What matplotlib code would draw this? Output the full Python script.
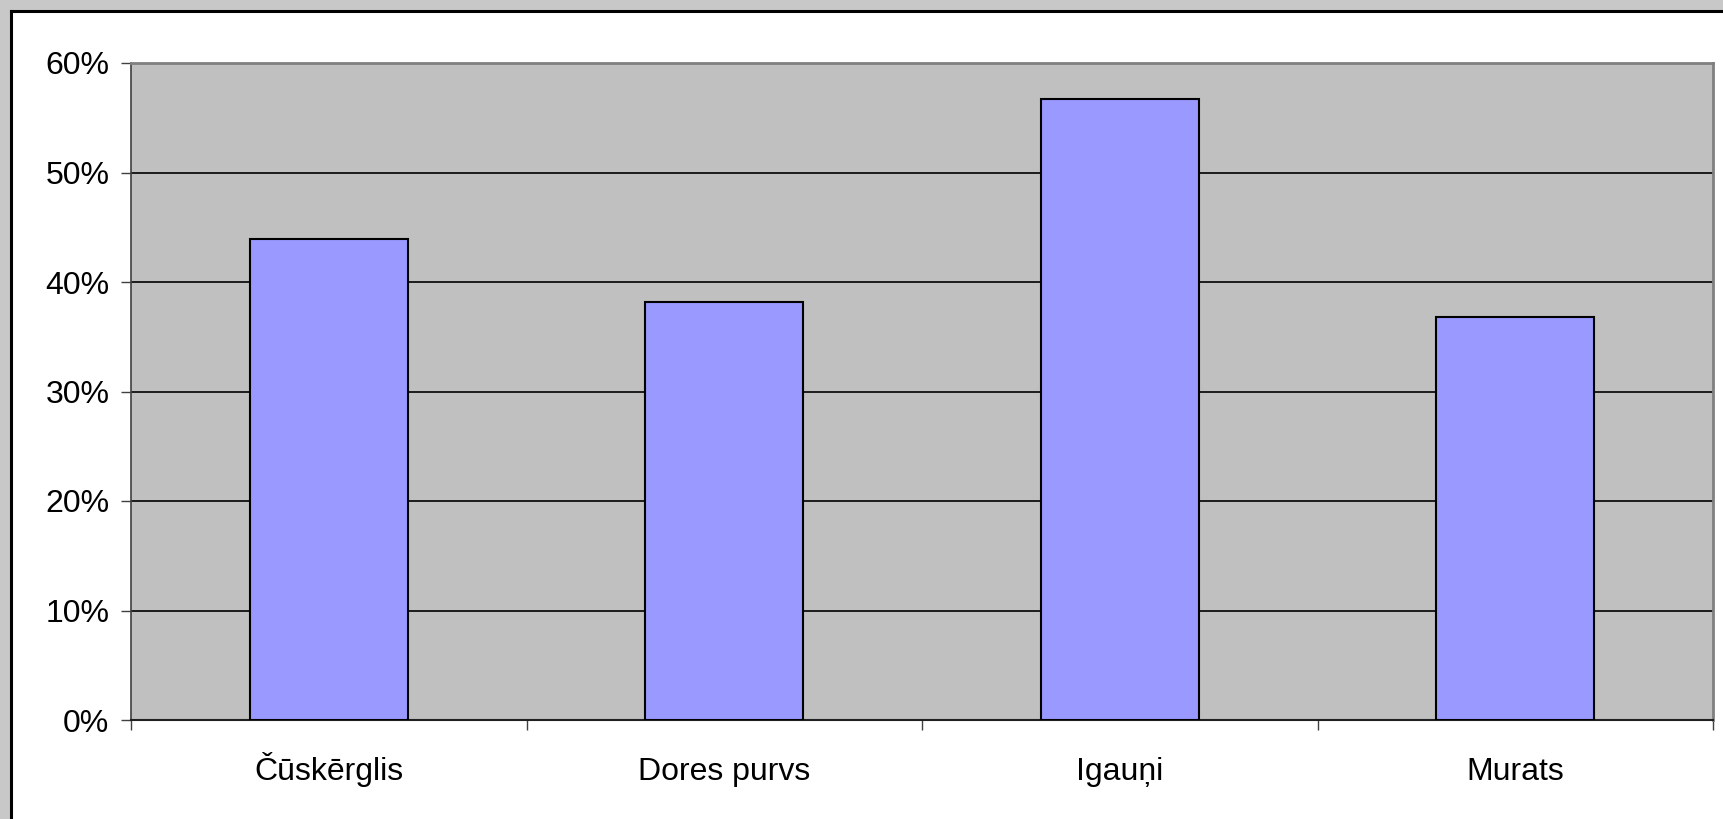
import matplotlib
matplotlib.use('Agg')
import matplotlib.pyplot as plt
from matplotlib.patches import Rectangle
from matplotlib.ticker import FixedLocator, PercentFormatter
import numpy as np

categories = ['Čūskērglis', 'Dores purvs', 'Igauņi', 'Murats']
values = [43.9, 38.2, 56.7, 36.8]
yticks = [0, 10, 20, 30, 40, 50, 60]

plt.rcParams['font.family'] = ['Liberation Sans', 'DejaVu Sans']

fig = plt.figure(figsize=(17.23, 8.19), dpi=100)
fig.patch.set_facecolor('#c8c8c8')

# white chart area with black frame on top/left (cropped at right/bottom)
W, H = 1723.0, 819.0
fig.patches.append(Rectangle((11 / W, 0), 1, 1 - 11 / H, transform=fig.transFigure,
                             facecolor='white', edgecolor='none', zorder=-10))
fig.lines.append(plt.Line2D([11 / W, 11 / W], [0, 1 - 11 / H], transform=fig.transFigure,
                            color='black', lw=2.2, zorder=-5))
fig.lines.append(plt.Line2D([11 / W, 1], [1 - 11 / H, 1 - 11 / H], transform=fig.transFigure,
                            color='black', lw=2.2, zorder=-5))

ax = fig.add_axes([131 / W, 99 / H, (1713 - 131) / W, (720 - 63) / H])
ax.set_facecolor('#c0c0c0')

x = np.arange(len(categories))
ax.bar(x, values, width=0.4, color='#9999ff', edgecolor='black', linewidth=1.5, zorder=3)

ax.set_xlim(-0.5, len(categories) - 0.5)
ax.set_ylim(0, 60)
ax.set_yticks(yticks)
ax.yaxis.set_major_formatter(PercentFormatter(decimals=0))
ax.yaxis.grid(True, color='black', lw=1.2, zorder=1)
ax.set_axisbelow(True)

ax.set_xticks(x)
ax.set_xticklabels(categories)
for lbl in ax.get_xticklabels():
    lbl.set_verticalalignment('baseline')  # same baseline for all labels
ax.xaxis.set_minor_locator(FixedLocator(np.arange(-0.5, len(categories), 1.0)))
ax.tick_params(axis='x', which='major', length=0, pad=43, labelsize=23)
ax.tick_params(axis='x', which='minor', length=7.5, width=1, color='#404040', direction='out')
ax.tick_params(axis='y', length=7.5, width=1, color='#404040', direction='out', pad=8, labelsize=23)

for side in ['top', 'right']:
    ax.spines[side].set_color('#808080')
    ax.spines[side].set_linewidth(2)
ax.spines['left'].set_color('#404040')
ax.spines['left'].set_linewidth(1.2)
ax.spines['bottom'].set_color('#202020')
ax.spines['bottom'].set_linewidth(1.5)

fig.savefig('out.png', dpi=100, facecolor=fig.get_facecolor())
